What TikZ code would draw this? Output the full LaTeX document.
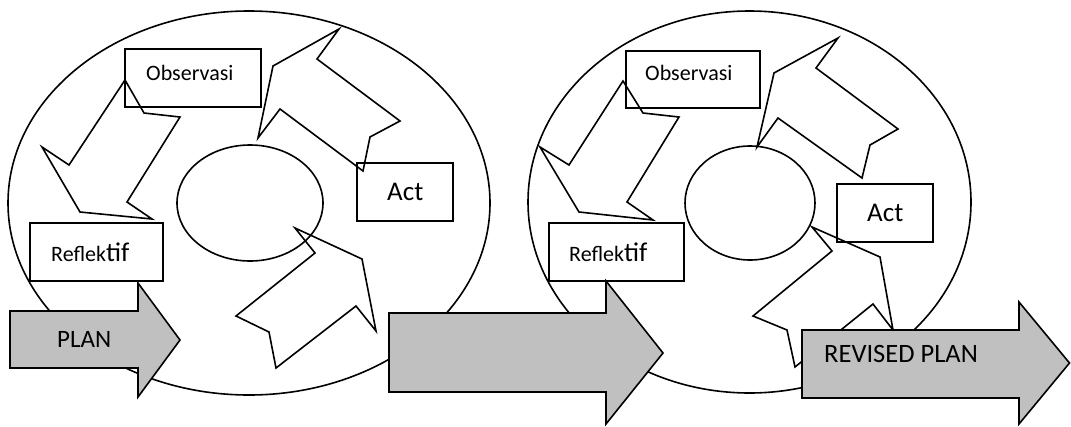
\documentclass[tikz,border=0pt]{standalone}
\usepackage{fontspec}
\setmainfont{Carlito}
\definecolor{plangray}{RGB}{192,192,192}
\tikzset{
  outline/.style={draw=black, line width=1.6pt, line join=miter},
  framebox/.style={draw=black, line width=1.6pt, rectangle, inner sep=0pt, anchor=north west},
  cyclearrow/.style={draw=black, line width=1.6pt, line join=miter},
  planarrow/.style={draw=black, fill=plangray, line width=1.6pt, line join=miter},
  lbl/.style={inner sep=0pt, anchor=base west, font=\fontsize{22}{26}\selectfont},
  biglbl/.style={inner sep=0pt, anchor=base west, font=\fontsize{26}{30}\selectfont}
}
\begin{document}
\begin{tikzpicture}[x=1pt, y=-1pt]
\useasboundingbox (0,0) rectangle (1071,426);

% ---- first cycle ----
\draw[outline] (249,203) ellipse [x radius=241pt, y radius=192pt];
\draw[outline] (250,203) ellipse [x radius=73pt, y radius=58pt];

\node[framebox, minimum width=136pt, minimum height=58pt] (obsA) at (124,48) {};
\node[framebox, minimum width=133pt, minimum height=58pt] (refA) at (29,222) {};
\node[framebox, minimum width=96pt, minimum height=58pt] (actA) at (356,162) {};

\node[lbl] (obsAt) at (146,80) {Observasi};
\node[lbl] (refAt) at (51,261) {\fontsize{22}{26}\selectfont Reflek\fontsize{27}{30}\selectfont tif};
\node[biglbl, font=\fontsize{27}{30}\selectfont] (actAt) at (387,200) {Act};

% bent arrows of the first cycle
\draw[cyclearrow] (125,80) -- (144,113) -- (180,117) -- (127,202) -- (152,219)
  -- (80,212) -- (42,147) -- (69,165) -- cycle;
\draw[cyclearrow] (258,138) -- (273,66) -- (339,29) -- (317,59) -- (400,121)
  -- (370,137) -- (363,171) -- (280,109) -- cycle;
\draw[cyclearrow] (295,228) -- (315,253) -- (236,316) -- (269,332) -- (276,368)
  -- (356,306) -- (376,331) -- (362,259) -- cycle;

% ---- second cycle ----
\draw[outline] (749.5,202) ellipse [x radius=221.5pt, y radius=191pt];
\draw[outline] (750,203) ellipse [x radius=65pt, y radius=57pt];

\node[framebox, minimum width=134pt, minimum height=57pt] (obsB) at (625,50) {};
\node[framebox, minimum width=135pt, minimum height=58pt] (refB) at (548,222) {};
\node[framebox, minimum width=96pt, minimum height=58pt] (actB) at (836,183) {};

\node[lbl] (obsBt) at (645,80) {Observasi};
\node[lbl] (refBt) at (569,261) {\fontsize{22}{26}\selectfont Reflek\fontsize{27}{30}\selectfont tif};
\node[biglbl, font=\fontsize{27}{30}\selectfont] (actBt) at (867,221) {Act};

% bent arrows of the second cycle
\draw[cyclearrow] (623,81) -- (643,113) -- (679,117) -- (627,202) -- (653,220)
  -- (579,212) -- (540,147) -- (569,165) -- cycle;
\draw[cyclearrow] (757,147) -- (774,73) -- (838,38) -- (816,68) -- (898,129)
  -- (870,145) -- (862,178) -- (778,118) -- cycle;
\draw[cyclearrow] (812,227) -- (832,251) -- (753,316) -- (787,330) -- (795,367)
  -- (873,304) -- (893,330) -- (880,257) -- cycle;

% ---- plan arrows ----
\draw[planarrow] (10,311) -- (138,311) -- (138,283) -- (180,340) -- (138,397)
  -- (138,368) -- (10,368) -- cycle;
\node[biglbl, font=\fontsize{25}{30}\selectfont] (planA) at (57,347) {PLAN};

\draw[planarrow] (389,313) -- (606,313) -- (606,281) -- (663,353) -- (606,424)
  -- (606,392) -- (389,392) -- cycle;

\draw[planarrow] (802,330) -- (1019,330) -- (1019,302) -- (1069.5,363) -- (1019,424)
  -- (1019,398) -- (802,398) -- cycle;
\node[biglbl, font=\fontsize{26.5}{30}\selectfont] (planB) at (824,362) {REVISED PLAN};
\end{tikzpicture}
\end{document}
